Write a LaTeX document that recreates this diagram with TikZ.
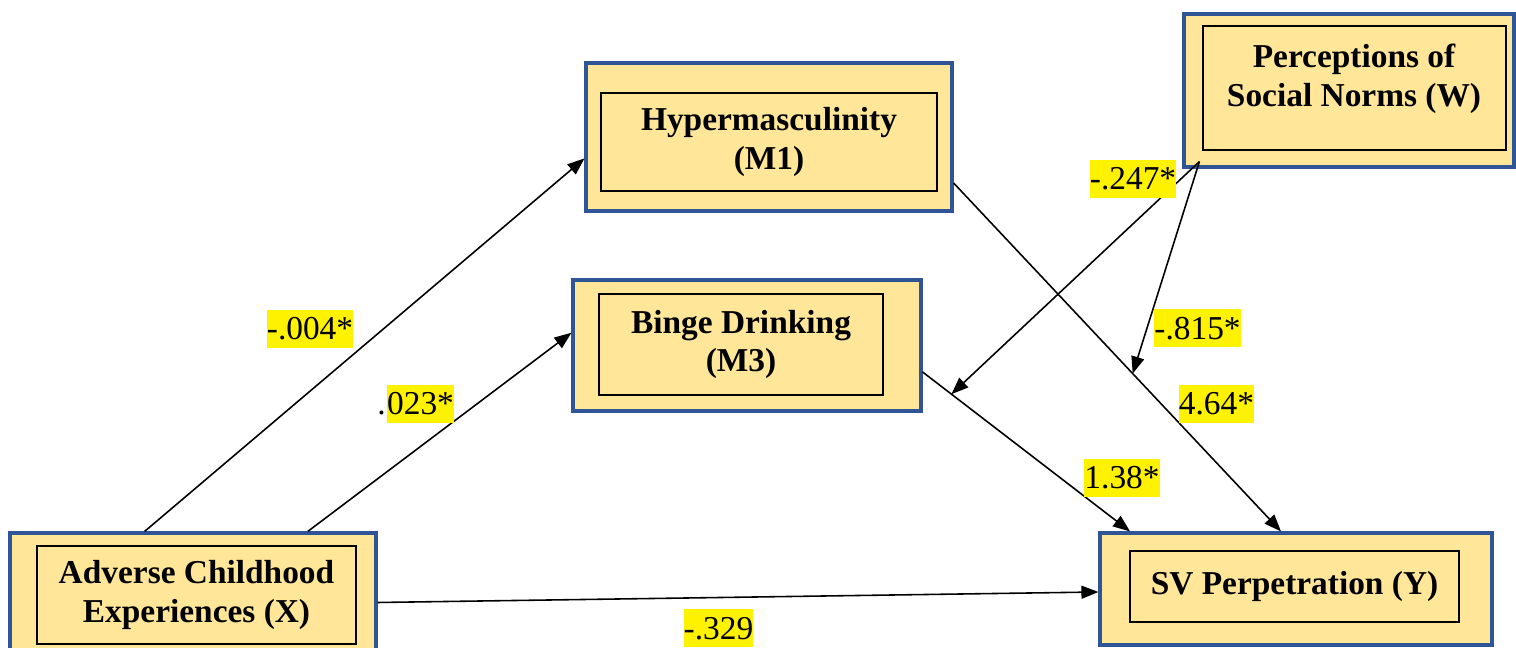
\documentclass[tikz,border=0pt]{standalone}
\usepackage{fontspec}
\setmainfont{Liberation Serif}
\usepackage{tikz}
\usetikzlibrary{arrows.meta,calc,positioning}

\definecolor{boxfill}{HTML}{FFE699}
\definecolor{boxedge}{HTML}{2F5597}

\tikzset{
  outbox/.style={draw=boxedge, line width=0.9pt, fill=boxfill, inner sep=0pt},
  inbox/.style={draw=black, line width=0.4pt, inner sep=0pt, align=center,
    font=\fontsize{9.5}{11}\selectfont\bfseries},
  effect/.style={draw, line width=0.45pt, -{Triangle[length=0.17cm,width=0.13cm]}},
  coef/.style={fill=yellow, inner xsep=0pt, inner ysep=0pt, text height=0.30cm,
    text depth=0.08cm, font=\fontsize{9.5}{11}\selectfont},
  coefplain/.style={coef, fill=none}
}

\begin{document}
\begin{tikzpicture}

\useasboundingbox (0,0) rectangle (15.16,-6.48);

% Boxes
\node[outbox, minimum width=3.66cm, minimum height=1.48cm] (m1Out) at (7.69,-1.37) {};
\node[inbox, minimum width=3.36cm, minimum height=0.98cm] (m1In) at (7.69,-1.42) {Hypermasculinity\\(M1)};

\node[outbox, minimum width=3.48cm, minimum height=1.31cm] (m3Out) at (7.47,-3.455) {};
\node[inbox, minimum width=2.84cm, minimum height=1.01cm] (m3In) at (7.41,-3.445) {Binge Drinking\\(M3)};

\node[outbox, minimum width=3.30cm, minimum height=1.53cm] (wOut) at (13.49,-0.905) {};
\node[inbox, minimum width=3.03cm, minimum height=1.24cm] (wIn) at (13.545,-0.88) {};
\node[inbox, draw=none] (wText) at (13.54,-0.785) {Perceptions of\\Social Norms (W)};

\node[outbox, minimum width=3.66cm, minimum height=1.23cm] (xOut) at (1.93,-5.945) {};
\node[inbox, minimum width=3.19cm, minimum height=0.98cm] (xIn) at (1.965,-5.95) {Adverse Childhood\\Experiences (X)};

\node[outbox, minimum width=3.92cm, minimum height=1.12cm] (yOut) at (12.96,-5.89) {};
\node[inbox, minimum width=3.29cm, minimum height=0.71cm] (yIn) at (12.945,-5.865) {SV Perpetration (Y)};

% Paths
\draw[effect] ($(xOut.north west)!0.369!(xOut.north east)$) -- ($(m1Out.south west)!0.358!(m1Out.north west)$);
\draw[effect] ($(xOut.north west)!0.811!(xOut.north east)$) -- ($(m3Out.south west)!0.595!(m3Out.north west)$);
\draw[effect] ([yshift=-0.08cm]xOut.east) -- ([yshift=-0.03cm]yOut.west);
\draw[effect] ([yshift=-0.46cm]m1Out.east) -- coordinate[pos=0.547] (onM1Y) ([xshift=-0.15cm]yOut.north);
\draw[effect] ([yshift=-0.265cm]m3Out.east) -- coordinate[pos=0.139] (onM3Y) ([xshift=-1.66cm]yOut.north);

% Moderation
\coordinate (wFoot) at ($(wOut.south west)+(0.17,0.07)$);
\draw[effect] (wFoot) -- (onM3Y);
\draw[effect] (wFoot) -- (onM1Y);

% Coefficients
\node[coef] (l004) at (3.10,-3.29) {-.004*};
\node[coef] (l023) at (4.205,-4.04) {023*};
\node[coefplain, anchor=east] (l023dot) at (l023.west) {.};
\node[coef] (l247) at (11.33,-1.79) {-.247*};
\node[coef] (l815) at (11.975,-3.285) {-.815*};
\node[coef] (l464) at (12.165,-4.04) {4.64*};
\node[coef] (l138) at (11.22,-4.78) {1.38*};
\node[coef] (l329) at (7.185,-6.285) {-.329};

\end{tikzpicture}
\end{document}
